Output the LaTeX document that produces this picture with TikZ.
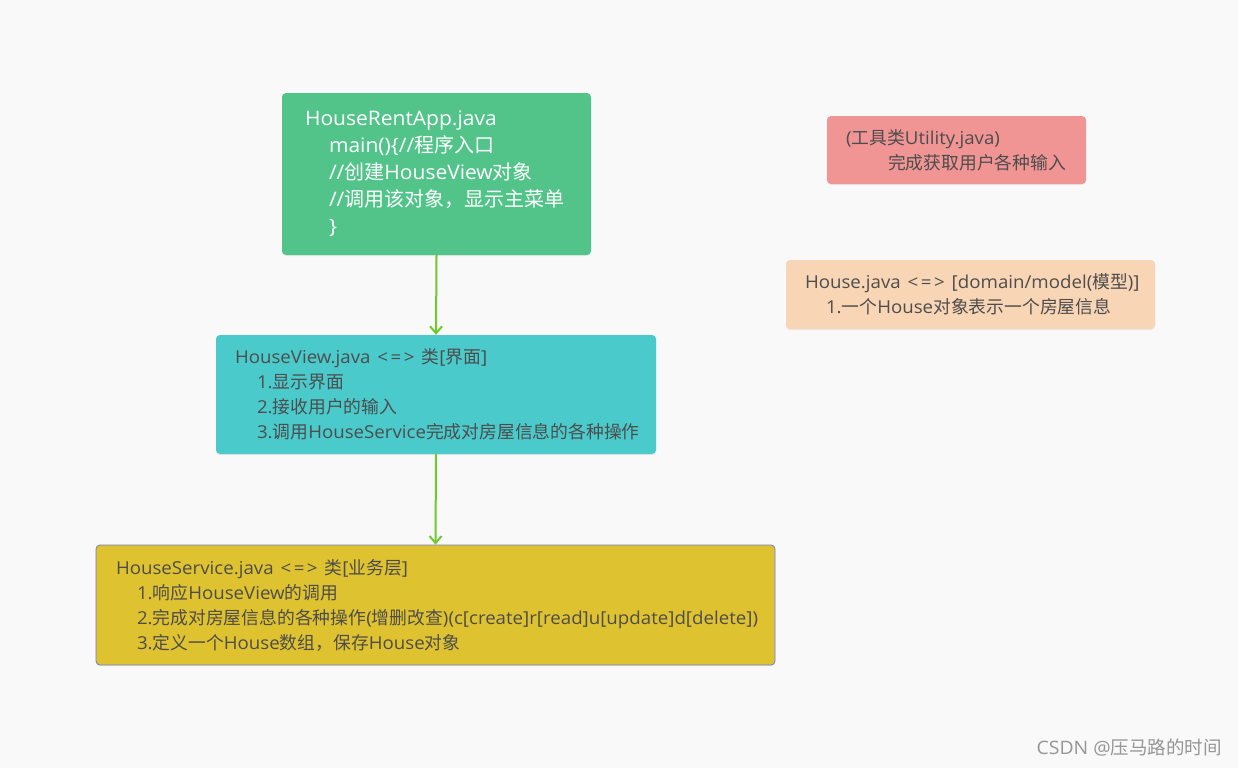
\documentclass[tikz,border=0pt]{standalone}
\usepackage{fontspec}
\setmainfont[FakeStretch=1.05]{Open Sans}
\newfontfamily\cjkf{Noto Sans CJK SC}
\newfontfamily\latf[FakeStretch=1.05]{Open Sans}
\XeTeXinterchartokenstate=1
\newXeTeXintercharclass\CJKcls
\count255="4E00
\loop\XeTeXcharclass\count255=\CJKcls\ifnum\count255<"9FFF\advance\count255 by 1\repeat
\count255="3000
\loop\XeTeXcharclass\count255=\CJKcls\ifnum\count255<"303F\advance\count255 by 1\repeat
\count255="FF00
\loop\XeTeXcharclass\count255=\CJKcls\ifnum\count255<"FFEF\advance\count255 by 1\repeat
\XeTeXinterchartoks 0 \CJKcls = {\cjkf}
\XeTeXinterchartoks 4095 \CJKcls = {\cjkf}
\XeTeXinterchartoks \CJKcls 0 = {\latf}
\XeTeXinterchartoks 4095 0 = {\latf}
\newcommand\eqvsym{\kern1pt<\kern2.5pt=\kern2.5pt>\kern1pt}
\usetikzlibrary{arrows.meta,shadows}
\definecolor{bgc}{RGB}{249,249,249}
\definecolor{appc}{RGB}{82,196,138}
\definecolor{viewc}{RGB}{74,202,203}
\definecolor{servc}{RGB}{223,194,47}
\definecolor{servb}{RGB}{110,125,205}
\definecolor{utilc}{RGB}{240,148,148}
\definecolor{housec}{RGB}{248,213,181}
\definecolor{txtc}{RGB}{77,77,77}
\definecolor{arrc}{RGB}{110,200,46}
\definecolor{wmc}{RGB}{150,150,150}
\tikzset{
  box/.style={rectangle, rounded corners=4pt, align=left, inner ysep=0pt,
    text=txtc, font=\fontsize{17.8}{25}\selectfont,
    drop shadow={opacity=0.12, shadow xshift=0pt, shadow yshift=-1pt}},
  flow/.style={draw=arrc, line width=2pt, -{Straight Barb[length=7pt,width=12pt,line width=2pt]}},
}
\begin{document}
\begin{tikzpicture}[x=1pt,y=-1pt]
\fill[bgc] (0,0) rectangle (1238,768);
\useasboundingbox (0,0) rectangle (1238,768);

\node[box, fill=appc, text=white, font=\fontsize{20}{27}\selectfont,
  minimum width=309pt, minimum height=162pt, inner xsep=23pt, text width=263pt]
  (app) at (436.5,174) {HouseRentApp.java\\
\hspace*{24pt}main()\{//程序入口\\
\hspace*{24pt}//创建HouseView对象\\
\hspace*{24pt}//调用该对象，显示主菜单\\
\hspace*{24pt}\}};

\node[box, fill=viewc,
  minimum width=440pt, minimum height=119pt, inner xsep=19pt, text width=402pt]
  (view) at (436,394.5) {HouseView.java \eqvsym{} 类[界面]\\
\hspace*{22pt}1.显示界面\\
\hspace*{22pt}2.接收用户的输入\\
\hspace*{22pt}\mbox{3.调用HouseService完成对房屋信息的各种操作}};

\node[box, fill=servc, draw=servb, line width=0.8pt,
  minimum width=679pt, minimum height=120pt, inner xsep=20pt, text width=639pt]
  (serv) at (435.5,605) {HouseService.java \eqvsym{} 类[业务层]\\
\hspace*{21pt}1.响应HouseView的调用\\
\hspace*{21pt}\mbox{2.完成对房屋信息的各种操作(增删改查)(c[create]r[read]u[update]d[delete])}\\
\hspace*{21pt}3.定义一个House数组，保存House对象};

\node[box, fill=utilc,
  minimum width=259pt, minimum height=68pt, inner xsep=19pt, text width=221pt]
  (util) at (956.5,150) {(工具类Utility.java)\\
\hspace*{42pt}完成获取用户各种输入};

\node[box, fill=housec,
  minimum width=369pt, minimum height=69pt, inner xsep=19pt, text width=331pt]
  (house) at (970.5,294.5) {\mbox{House.java \eqvsym{} [domain/model(模型)]}\\
\hspace*{21pt}1.一个House对象表示一个房屋信息};

\draw[flow] (app.south) -- (view.north);
\draw[flow] (view.south) -- (serv.north);

\node[anchor=east, text=wmc, inner sep=0pt, font=\fontsize{18.5}{20}\selectfont]
  (wm) at (1222,748) {CSDN @压马路的时间};
\end{tikzpicture}
\end{document}
